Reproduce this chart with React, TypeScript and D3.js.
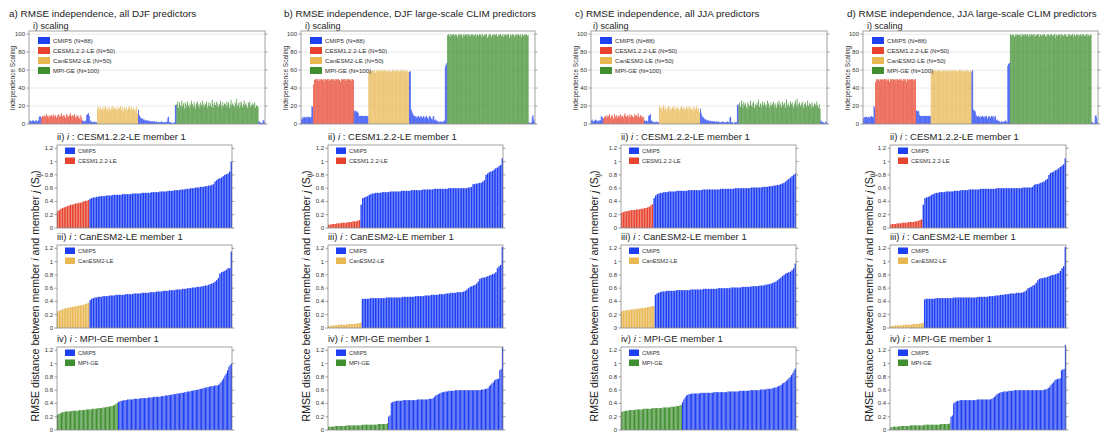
import React from "react";
import * as d3 from "d3";

// ---------- Scaling (i) data: order = CMIP5 | CESM | CMIP5 | CanESM | CMIP5 | MPI | CMIP5 ----------
const groupNames = ["CMIP5", "CESM1.2.2-LE", "CanESM2-LE", "MPI-GE"];
const groupSizes = [88, 50, 50, 100];

// a) all DJF
const aCmipSeg1 = [3,4,3,3,4,4,3,3,4,4,3,4,8,9,8];
const aCesm = [7,9,8,10,9,8,11,9,7,10,8,9,10,8,11,9,8,10,7,9,10,11,8,9,12,9,8,10,9,7,11,10,9,8,10,12,9,8,10,9,11,8,7,10,9,8,6,10,5,8];
const aCmipSeg2 = [4,3,3,4,3,10,11,12,9,4,3,3,2,2,3,2,2,2];
const aCan = [18,20,14,17,19,16,18,15,19,17,20,16,18,14,19,17,15,18,20,16,19,17,18,15,17,19,16,18,20,15,17,19,14,18,16,19,17,15,18,20,16,17,19,15,18,16,14,17,19,12];
const aCmipSeg3 = [16,10,8,7,6,6,5,5,4,4,4,4,3,4,3,3,3,3,3,3,3,2,3,2,2,2,2,2,3,2,2,2,2,2,2,3,7,8,2,2,2,1,1,1,2,21,21];
const aMpi = [22,25,18,24,21,19,26,20,23,17,24,22,19,25,21,18,23,20,26,22,19,24,21,17,23,25,20,22,18,24,21,26,19,23,20,22,25,18,21,24,20,23,19,27,22,18,24,21,25,20,23,19,22,26,21,18,24,20,23,22,19,25,21,24,18,22,27,20,23,21,19,24,22,28,20,23,18,25,21,24,19,22,26,20,23,21,18,24,22,25,19,21,23,20,22,24,18,21,20,19];
const aCmipSeg4 = [3,2,2,1,1,4,4,2];

// b) DJF large-scale CLIM
const bCmipSeg1 = [5,6,8,7,8,7,8,8,7,8,8,7,8,20,19];
const bCesm = [44,49,50,49,50,50,48,50,49,50,50,49,50,47,50,50,49,50,50,48,50,49,50,50,49,50,48,50,50,49,50,50,49,47,50,50,49,50,50,48,50,49,50,50,49,50,50,48,50,49];
const bCmipSeg2 = [15,14,15,13,14,12,9,9,9,9,9,9,9,9,9,9,9,8];
const bCan = [58,59,60,59,58,60,59,60,57,59,60,58,60,59,60,59,58,60,59,60,60,58,59,60,59,57,60,59,58,60,59,60,59,58,60,59,60,58,59,60,59,60,58,59,60,59,57,60,59,58];
const bCmipSeg3 = [58,59,16,14,12,10,9,8,9,7,8,9,7,8,9,8,7,9,8,6,8,9,7,5,8,9,8,6,5,8,9,4,5,4,3,3,3,2,3,2,3,2,3,4,64,66,68];
const bMpi = [99,100,98,100,97,100,99,100,98,99,100,99,97,100,98,100,99,100,96,99,100,98,100,99,100,97,100,99,98,100,99,100,98,99,100,97,99,100,98,100,99,100,97,100,98,99,100,99,100,96,98,100,99,100,97,99,100,98,100,99,100,98,97,100,99,100,98,99,100,97,99,100,98,100,99,100,96,100,98,99,100,99,97,100,98,100,99,100,98,99,100,97,100,99,98,100,99,100,98,99];
const bCmipSeg4 = [2,1,1,2,8,10,5,2];

// c) all JJA
const cCmipSeg1 = [4,5,3,3,4,5,4,3,4,3,4,4,9,8,7];
const cCesm = [6,8,9,7,10,8,9,11,7,8,10,9,6,11,8,9,10,7,9,8,11,10,8,9,7,10,12,9,8,10,7,9,11,8,10,9,7,8,11,9,10,8,12,9,7,10,8,9,6,8];
const cCmipSeg2 = [4,3,4,3,3,9,10,11,4,3,3,2,2,2,3,2,2,2];
const cCan = [20,17,19,15,18,21,16,19,17,14,18,20,16,19,15,17,19,18,16,20,15,18,17,19,16,14,18,20,17,19,15,18,16,19,17,20,15,18,19,16,17,14,19,18,16,20,17,15,18,13];
const cCmipSeg3 = [17,12,9,8,7,6,5,5,4,4,4,3,4,3,3,3,3,3,2,3,3,2,3,2,2,2,2,3,2,2,2,2,2,3,2,2,7,8,2,2,1,1,2,2,2,21,22];
const cMpi = [20,24,19,26,22,18,25,21,23,19,17,24,22,20,26,21,19,23,25,18,22,20,24,21,27,19,23,22,18,25,21,24,20,22,19,26,23,18,21,24,20,22,25,19,23,21,18,24,22,26,20,23,19,25,21,22,24,18,27,20,23,21,19,25,22,24,20,18,23,26,21,28,19,22,24,20,23,21,25,18,22,24,19,21,26,20,23,22,18,24,21,19,23,22,20,25,21,18,22,17];
const cCmipSeg4 = [4,3,2,2,1,1,3,2];

// d) JJA large-scale CLIM
const dCmipSeg1 = [6,8,7,8,8,7,8,8,7,8,9,8,7,20,18];
const dCesm = [47,50,49,50,50,48,50,49,50,50,49,50,50,48,50,49,50,47,50,50,49,50,50,49,50,48,50,50,49,50,50,49,50,48,50,50,49,50,47,50,49,50,50,49,50,50,48,50,49,50];
const dCmipSeg2 = [15,14,15,14,10,9,9,9,9,9,9,9,9,9,9,9,9,9];
const dCan = [59,60,58,60,59,60,59,58,60,59,60,59,60,58,59,60,59,60,57,60,59,60,58,59,60,59,60,58,60,59,60,59,58,60,59,60,59,60,58,59,60,59,58,60,59,60,59,58,60,59];
const dCmipSeg3 = [58,60,16,15,14,10,9,8,9,8,7,9,8,9,8,7,9,8,9,6,8,9,8,7,9,8,9,5,8,9,4,5,4,3,3,2,3,2,3,2,3,4,3,2,65,67,68];
const dMpi = [100,99,98,100,99,97,100,98,100,99,99,100,98,100,97,100,99,100,98,100,99,100,97,99,100,98,100,99,100,97,100,98,99,100,99,100,97,100,98,99,100,99,100,98,97,100,99,100,98,100,99,100,98,99,100,96,100,99,98,100,99,100,97,100,99,98,100,99,100,98,97,100,99,100,98,99,100,97,100,99,98,100,99,100,97,99,100,98,100,99,100,98,99,100,97,100,99,98,100,99];
const dCmipSeg4 = [2,2,1,1,9,10,7,2];

const scalingTicks = [0, 20, 40, 60, 80, 100];
const distTicks = [0, 0.2, 0.4, 0.6, 0.8, 1, 1.2];

// ---------- Distance panels (sorted RMSE distance to member 1) ----------
// a) all DJF
const aDistCesmLE = [0.25,0.27,0.29,0.3,0.31,0.32,0.33,0.34,0.35,0.35,0.36,0.37,0.37,0.38,0.38,0.39,0.4,0.41,0.41,0.42];
const aDistCesmCmip = [0.44,0.45,0.46,0.46,0.47,0.47,0.48,0.48,0.48,0.48,0.49,0.49,0.49,0.49,0.5,0.5,0.5,0.5,0.5,0.5,0.51,0.51,0.51,0.51,0.51,0.51,0.52,0.52,0.52,0.52,0.52,0.52,0.53,0.53,0.53,0.53,0.53,0.53,0.54,0.54,0.54,0.54,0.54,0.55,0.55,0.55,0.55,0.55,0.56,0.56,0.56,0.56,0.57,0.57,0.57,0.57,0.58,0.58,0.58,0.59,0.59,0.59,0.6,0.6,0.6,0.61,0.61,0.61,0.62,0.62,0.62,0.63,0.63,0.64,0.64,0.65,0.66,0.7,0.72,0.74,0.75,0.76,0.78,0.8,0.81,0.82,0.85,1.0];
const aDistCanLE = [0.25,0.26,0.27,0.28,0.29,0.3,0.3,0.31,0.31,0.32,0.32,0.33,0.33,0.34,0.34,0.35,0.35,0.36,0.37,0.38];
const aDistCanCmip = [0.42,0.44,0.45,0.46,0.46,0.47,0.47,0.47,0.48,0.48,0.48,0.48,0.49,0.49,0.49,0.49,0.5,0.5,0.5,0.5,0.5,0.5,0.51,0.51,0.51,0.51,0.51,0.52,0.52,0.52,0.52,0.52,0.53,0.53,0.53,0.53,0.53,0.54,0.54,0.54,0.54,0.55,0.55,0.55,0.55,0.56,0.56,0.56,0.56,0.57,0.57,0.57,0.57,0.58,0.58,0.58,0.58,0.59,0.59,0.59,0.6,0.6,0.6,0.61,0.61,0.61,0.62,0.62,0.62,0.63,0.63,0.64,0.64,0.65,0.66,0.67,0.68,0.7,0.72,0.75,0.82,0.84,0.85,0.86,0.88,0.9,0.9,1.15];
const aDistMpiLE = [0.23,0.24,0.25,0.26,0.27,0.27,0.28,0.28,0.28,0.28,0.28,0.29,0.29,0.29,0.29,0.29,0.29,0.3,0.3,0.3,0.3,0.3,0.31,0.31,0.31,0.31,0.31,0.32,0.32,0.32,0.32,0.33,0.33,0.33,0.33,0.34,0.34,0.34,0.35,0.35,0.35,0.36,0.36,0.37,0.38,0.39,0.41];
const aDistMpiCmip = [0.42,0.43,0.44,0.44,0.45,0.45,0.45,0.46,0.46,0.46,0.46,0.46,0.47,0.47,0.47,0.47,0.47,0.48,0.48,0.48,0.48,0.48,0.48,0.49,0.49,0.49,0.49,0.5,0.5,0.5,0.5,0.5,0.5,0.51,0.51,0.51,0.52,0.52,0.52,0.53,0.53,0.53,0.54,0.54,0.54,0.55,0.55,0.55,0.56,0.56,0.56,0.57,0.57,0.58,0.58,0.58,0.59,0.59,0.6,0.6,0.6,0.61,0.61,0.62,0.62,0.63,0.63,0.64,0.64,0.65,0.65,0.66,0.66,0.66,0.67,0.67,0.67,0.68,0.7,0.72,0.75,0.78,0.82,0.85,0.9,0.95,0.98,1.0];

// b) DJF large-scale CLIM
const bDistCesmLE = [0.05,0.05,0.06,0.06,0.06,0.07,0.07,0.07,0.08,0.08,0.08,0.08,0.09,0.09,0.09,0.1,0.1,0.1,0.11,0.12];
const bDistCesmCmip = [0.35,0.45,0.46,0.47,0.48,0.5,0.51,0.52,0.52,0.53,0.53,0.53,0.53,0.54,0.54,0.54,0.54,0.54,0.55,0.55,0.55,0.55,0.55,0.55,0.55,0.56,0.56,0.56,0.56,0.56,0.56,0.57,0.57,0.57,0.57,0.57,0.57,0.57,0.58,0.58,0.58,0.58,0.58,0.58,0.58,0.59,0.59,0.59,0.59,0.59,0.59,0.59,0.59,0.59,0.6,0.6,0.6,0.6,0.6,0.6,0.6,0.6,0.6,0.6,0.6,0.6,0.61,0.61,0.62,0.66,0.66,0.67,0.67,0.68,0.68,0.7,0.72,0.8,0.82,0.84,0.85,0.86,0.88,0.9,0.91,0.93,0.95,1.05];
const bDistCanLE = [0.03,0.03,0.04,0.04,0.04,0.04,0.05,0.05,0.05,0.05,0.05,0.05,0.06,0.06,0.06,0.06,0.06,0.07,0.07,0.07,0.08];
const bDistCanCmip = [0.44,0.44,0.44,0.44,0.44,0.45,0.45,0.45,0.45,0.45,0.45,0.45,0.45,0.45,0.45,0.46,0.46,0.46,0.46,0.46,0.46,0.46,0.46,0.46,0.46,0.47,0.47,0.47,0.47,0.47,0.47,0.47,0.47,0.48,0.48,0.48,0.48,0.48,0.48,0.49,0.49,0.49,0.49,0.5,0.5,0.5,0.5,0.5,0.51,0.51,0.51,0.51,0.52,0.52,0.52,0.53,0.53,0.53,0.53,0.54,0.54,0.54,0.54,0.55,0.56,0.58,0.6,0.62,0.63,0.64,0.65,0.67,0.7,0.74,0.75,0.76,0.76,0.77,0.78,0.79,0.8,0.81,0.82,0.84,0.9,0.93,0.95,1.22];
const bDistMpiLE = [0.05,0.05,0.05,0.05,0.05,0.06,0.06,0.06,0.06,0.06,0.06,0.06,0.06,0.06,0.07,0.07,0.07,0.07,0.07,0.07,0.07,0.07,0.07,0.07,0.07,0.07,0.08,0.08,0.08,0.08,0.08,0.08,0.08,0.08,0.08,0.08,0.08,0.08,0.09,0.09,0.09,0.09,0.09,0.09,0.09,0.1];
const bDistMpiCmip = [0.2,0.22,0.41,0.42,0.43,0.43,0.44,0.44,0.44,0.44,0.44,0.45,0.45,0.45,0.45,0.45,0.45,0.45,0.45,0.45,0.45,0.45,0.46,0.46,0.46,0.46,0.46,0.46,0.46,0.46,0.46,0.47,0.47,0.47,0.48,0.5,0.52,0.53,0.54,0.55,0.56,0.57,0.57,0.58,0.58,0.58,0.59,0.59,0.59,0.59,0.59,0.6,0.6,0.6,0.6,0.6,0.6,0.6,0.6,0.6,0.6,0.6,0.6,0.6,0.6,0.6,0.6,0.6,0.6,0.6,0.6,0.61,0.61,0.61,0.62,0.62,0.63,0.66,0.68,0.7,0.72,0.75,0.76,0.77,0.77,0.9,0.92,1.25];

// c) all JJA
const cDistCesmLE = [0.23,0.24,0.25,0.25,0.26,0.26,0.27,0.27,0.27,0.28,0.28,0.28,0.29,0.29,0.3,0.3,0.31,0.32,0.34,0.36];
const cDistCesmCmip = [0.45,0.49,0.51,0.52,0.53,0.53,0.54,0.54,0.54,0.55,0.55,0.55,0.55,0.55,0.56,0.56,0.56,0.56,0.56,0.56,0.56,0.57,0.57,0.57,0.57,0.57,0.57,0.57,0.57,0.57,0.58,0.58,0.58,0.58,0.58,0.58,0.58,0.58,0.58,0.58,0.58,0.59,0.59,0.59,0.59,0.59,0.59,0.59,0.59,0.59,0.6,0.6,0.6,0.6,0.6,0.6,0.6,0.6,0.6,0.6,0.61,0.61,0.61,0.61,0.61,0.61,0.61,0.62,0.62,0.62,0.62,0.63,0.63,0.63,0.64,0.64,0.65,0.65,0.66,0.67,0.68,0.7,0.72,0.74,0.76,0.78,0.8,0.82];
const cDistCanLE = [0.25,0.26,0.26,0.27,0.27,0.27,0.28,0.28,0.28,0.29,0.29,0.29,0.3,0.3,0.3,0.31,0.31,0.32,0.32,0.33,0.33];
const cDistCanCmip = [0.5,0.52,0.53,0.54,0.55,0.55,0.55,0.56,0.56,0.56,0.56,0.56,0.56,0.57,0.57,0.57,0.57,0.57,0.57,0.57,0.57,0.57,0.58,0.58,0.58,0.58,0.58,0.58,0.58,0.58,0.59,0.59,0.59,0.59,0.59,0.59,0.59,0.59,0.59,0.6,0.6,0.6,0.6,0.6,0.6,0.6,0.6,0.61,0.61,0.61,0.61,0.61,0.61,0.61,0.62,0.62,0.62,0.62,0.62,0.62,0.63,0.63,0.63,0.63,0.63,0.64,0.64,0.64,0.65,0.65,0.66,0.66,0.67,0.68,0.69,0.7,0.72,0.74,0.76,0.78,0.8,0.82,0.83,0.84,0.85,0.87,0.9,0.97];
const cDistMpiLE = [0.27,0.28,0.28,0.29,0.29,0.29,0.3,0.3,0.3,0.3,0.3,0.31,0.31,0.31,0.31,0.31,0.31,0.32,0.32,0.32,0.32,0.32,0.32,0.32,0.33,0.33,0.33,0.33,0.33,0.33,0.33,0.33,0.34,0.34,0.34,0.34,0.34,0.34,0.35,0.35,0.35,0.35,0.36,0.36,0.36,0.37,0.38];
const cDistMpiCmip = [0.42,0.46,0.49,0.52,0.53,0.54,0.54,0.55,0.55,0.55,0.55,0.55,0.55,0.55,0.56,0.56,0.56,0.56,0.56,0.56,0.56,0.56,0.56,0.56,0.57,0.57,0.57,0.57,0.57,0.57,0.57,0.57,0.57,0.57,0.57,0.58,0.58,0.58,0.58,0.58,0.58,0.58,0.58,0.58,0.59,0.59,0.59,0.59,0.59,0.59,0.59,0.59,0.6,0.6,0.6,0.6,0.6,0.6,0.6,0.6,0.61,0.61,0.61,0.61,0.61,0.62,0.62,0.62,0.62,0.63,0.63,0.64,0.64,0.65,0.66,0.67,0.68,0.7,0.71,0.72,0.74,0.76,0.78,0.8,0.83,0.86,0.9,0.93];

// d) JJA large-scale CLIM
const dDistCesmLE = [0.05,0.06,0.06,0.06,0.07,0.07,0.07,0.08,0.08,0.08,0.08,0.09,0.09,0.09,0.09,0.1,0.1,0.11,0.12,0.13];
const dDistCesmCmip = [0.35,0.45,0.46,0.47,0.48,0.5,0.51,0.52,0.53,0.53,0.54,0.54,0.54,0.54,0.55,0.55,0.55,0.55,0.55,0.56,0.56,0.56,0.56,0.57,0.57,0.57,0.57,0.57,0.58,0.58,0.58,0.58,0.58,0.58,0.58,0.59,0.59,0.59,0.59,0.59,0.59,0.59,0.59,0.59,0.59,0.6,0.6,0.6,0.6,0.6,0.6,0.6,0.6,0.6,0.6,0.6,0.6,0.6,0.6,0.6,0.6,0.61,0.61,0.61,0.61,0.61,0.61,0.62,0.65,0.66,0.66,0.67,0.68,0.69,0.7,0.72,0.74,0.8,0.83,0.84,0.85,0.87,0.88,0.9,0.92,0.94,0.96,1.05];
const dDistCanLE = [0.03,0.03,0.03,0.04,0.04,0.04,0.04,0.04,0.05,0.05,0.05,0.05,0.05,0.05,0.06,0.06,0.06,0.06,0.07,0.07,0.08];
const dDistCanCmip = [0.43,0.44,0.44,0.44,0.44,0.44,0.44,0.45,0.45,0.45,0.45,0.45,0.45,0.45,0.45,0.45,0.45,0.45,0.46,0.46,0.46,0.46,0.46,0.46,0.46,0.46,0.46,0.46,0.46,0.46,0.46,0.46,0.46,0.47,0.47,0.47,0.47,0.47,0.47,0.47,0.48,0.48,0.48,0.48,0.49,0.49,0.49,0.5,0.5,0.5,0.51,0.51,0.51,0.52,0.52,0.52,0.52,0.53,0.53,0.53,0.53,0.54,0.55,0.57,0.6,0.61,0.62,0.64,0.65,0.68,0.72,0.74,0.75,0.75,0.76,0.76,0.77,0.78,0.79,0.8,0.8,0.81,0.82,0.83,0.86,0.9,0.93,1.22];
const dDistMpiLE = [0.04,0.04,0.05,0.05,0.05,0.05,0.05,0.06,0.06,0.06,0.06,0.06,0.06,0.06,0.06,0.07,0.07,0.07,0.07,0.07,0.07,0.07,0.07,0.07,0.07,0.07,0.08,0.08,0.08,0.08,0.08,0.08,0.08,0.08,0.08,0.08,0.08,0.08,0.09,0.09,0.09,0.09,0.09,0.09,0.09,0.1];
const dDistMpiCmip = [0.2,0.22,0.4,0.42,0.43,0.44,0.44,0.45,0.45,0.45,0.45,0.45,0.45,0.45,0.45,0.45,0.45,0.45,0.45,0.45,0.46,0.46,0.46,0.46,0.46,0.46,0.46,0.46,0.46,0.46,0.46,0.47,0.48,0.5,0.52,0.54,0.55,0.56,0.57,0.57,0.58,0.58,0.58,0.58,0.59,0.59,0.59,0.59,0.6,0.6,0.6,0.6,0.6,0.6,0.6,0.6,0.6,0.6,0.6,0.6,0.6,0.6,0.6,0.6,0.6,0.6,0.6,0.6,0.6,0.6,0.6,0.61,0.61,0.62,0.63,0.65,0.68,0.7,0.72,0.75,0.76,0.77,0.77,0.78,0.9,0.91,0.92,1.28];

// ---------- styling ----------
const COLORS: Record<string, string> = {
  "CMIP5": "#1f3ff2",
  "CESM1.2.2-LE": "#e8432e",
  "CanESM2-LE": "#e8b752",
  "MPI-GE": "#3f8e2f",
};
const FONT = "'Liberation Sans', Arial, sans-serif";
const FRAME = "#8c8c8c";

type Bar = { v: number; g: string };

function buildScaling(s1: number[], ce: number[], s2: number[], ca: number[], s3: number[], mp: number[], s4: number[]): Bar[] {
  const m = (arr: number[], g: string) => arr.map((v) => ({ v, g }));
  return [
    ...m(s1, "CMIP5"), ...m(ce, "CESM1.2.2-LE"), ...m(s2, "CMIP5"), ...m(ca, "CanESM2-LE"),
    ...m(s3, "CMIP5"), ...m(mp, "MPI-GE"), ...m(s4, "CMIP5"),
  ];
}
function buildDist(le: number[], leName: string, cmip: number[]): Bar[] {
  return [...le.map((v) => ({ v, g: leName })), ...cmip.map((v) => ({ v, g: "CMIP5" }))];
}

const columns = [
  {
    title: "a) RMSE independence, all DJF predictors", tx: 9, sx: 33, topL: 29, topR: 265, lowL: 57, lowR: 232, ylx: 13, blx: 35,
    scaling: buildScaling(aCmipSeg1, aCesm, aCmipSeg2, aCan, aCmipSeg3, aMpi, aCmipSeg4),
    dist: [buildDist(aDistCesmLE, "CESM1.2.2-LE", aDistCesmCmip), buildDist(aDistCanLE, "CanESM2-LE", aDistCanCmip), buildDist(aDistMpiLE, "MPI-GE", aDistMpiCmip)],
  },
  {
    title: "b) RMSE independence, DJF large-scale CLIM predictors", tx: 284, sx: 305, topL: 301, topR: 535, lowL: 328, lowR: 503, ylx: 286, blx: 306,
    scaling: buildScaling(bCmipSeg1, bCesm, bCmipSeg2, bCan, bCmipSeg3, bMpi, bCmipSeg4),
    dist: [buildDist(bDistCesmLE, "CESM1.2.2-LE", bDistCesmCmip), buildDist(bDistCanLE, "CanESM2-LE", bDistCanCmip), buildDist(bDistMpiLE, "MPI-GE", bDistMpiCmip)],
  },
  {
    title: "c) RMSE independence, all JJA predictors", tx: 575, sx: 593, topL: 591, topR: 827, lowL: 621, lowR: 796, ylx: 576, blx: 594,
    scaling: buildScaling(cCmipSeg1, cCesm, cCmipSeg2, cCan, cCmipSeg3, cMpi, cCmipSeg4),
    dist: [buildDist(cDistCesmLE, "CESM1.2.2-LE", cDistCesmCmip), buildDist(cDistCanLE, "CanESM2-LE", cDistCanCmip), buildDist(cDistMpiLE, "MPI-GE", cDistMpiCmip)],
  },
  {
    title: "d) RMSE independence, JJA large-scale CLIM predictors", tx: 847, sx: 867, topL: 863, topR: 1098, lowL: 890, lowR: 1066, ylx: 848, blx: 869,
    scaling: buildScaling(dCmipSeg1, dCesm, dCmipSeg2, dCan, dCmipSeg3, dMpi, dCmipSeg4),
    dist: [buildDist(dDistCesmLE, "CESM1.2.2-LE", dDistCesmCmip), buildDist(dDistCanLE, "CanESM2-LE", dDistCanCmip), buildDist(dDistMpiLE, "MPI-GE", dDistMpiCmip)],
  },
];

const distPanels = [
  { roman: "ii)", name: "CESM1.2.2-LE", top: 145, bottom: 228 },
  { roman: "iii)", name: "CanESM2-LE", top: 245, bottom: 328 },
  { roman: "iv)", name: "MPI-GE", top: 347, bottom: 430 },
];

function ScalingPanel({ data, x0, x1 }: { data: Bar[]; x0: number; x1: number }) {
  const top = 31, bottom = 124;
  const x = d3.scaleBand<number>().domain(d3.range(data.length)).range([x0, x1]).paddingInner(0.12);
  const y = d3.scaleLinear().domain([0, 103.5]).range([bottom, top]);
  return (
    <g>
      {scalingTicks.filter((t) => t > 0).map((t) => (
        <line key={"g" + t} x1={x0} x2={x1} y1={y(t)} y2={y(t)} stroke="#dcdcdc" strokeWidth={0.6} />
      ))}
      {data.map((d, i) => (
        <rect key={i} x={x(i)} y={y(d.v)} width={x.bandwidth()} height={bottom - y(d.v)} fill={COLORS[d.g]} />
      ))}
      <rect x={x0} y={top} width={x1 - x0} height={bottom - top} fill="none" stroke={FRAME} strokeWidth={0.8} />
      {scalingTicks.map((t) => (
        <g key={t}>
          <line x1={x0 - 2.5} x2={x0} y1={y(t)} y2={y(t)} stroke="#666" strokeWidth={0.6} />
          <line x1={x1} x2={x1 + 2.5} y1={y(t)} y2={y(t)} stroke="#666" strokeWidth={0.6} />
          <text x={x0 - 4} y={y(t)} dy="0.33em" fontSize={6} textAnchor="end" fill="#333" fontFamily={FONT}>{t}</text>
        </g>
      ))}
      {groupNames.map((g, k) => (
        <g key={g}>
          <rect x={x0 + 9} y={top + 6 + k * 10} width={12} height={7} fill={COLORS[g]} />
          <text x={x0 + 24} y={top + 9.5 + k * 10} dy="0.33em" fontSize={6.2} fill="#333" fontFamily={FONT}>
            {g} (N={groupSizes[k]})
          </text>
        </g>
      ))}
    </g>
  );
}

function DistPanel({ data, x0, x1, top, bottom, name }: { data: Bar[]; x0: number; x1: number; top: number; bottom: number; name: string }) {
  const x = d3.scaleBand<number>().domain(d3.range(data.length)).range([x0, x1]).paddingInner(0.14);
  const y = d3.scaleLinear().domain([0, 1.25]).range([bottom, top]);
  const fmt = d3.format("~g");
  return (
    <g>
      {data.map((d, i) => (
        <rect key={i} x={x(i)} y={y(d.v)} width={x.bandwidth()} height={bottom - y(d.v)} fill={COLORS[d.g]} />
      ))}
      <rect x={x0} y={top} width={x1 - x0} height={bottom - top} fill="none" stroke={FRAME} strokeWidth={0.8} />
      {distTicks.map((t) => (
        <g key={t}>
          <line x1={x0 - 2.5} x2={x0} y1={y(t)} y2={y(t)} stroke="#666" strokeWidth={0.6} />
          <line x1={x1} x2={x1 + 2.5} y1={y(t)} y2={y(t)} stroke="#666" strokeWidth={0.6} />
          <text x={x0 - 4} y={y(t)} dy="0.33em" fontSize={6} textAnchor="end" fill="#333" fontFamily={FONT}>{fmt(t)}</text>
        </g>
      ))}
      {["CMIP5", name].map((g, k) => (
        <g key={g}>
          <rect x={x0 + 8} y={top + 2.5 + k * 10} width={10} height={6.5} fill={COLORS[g]} />
          <text x={x0 + 21} y={top + 5.75 + k * 10} dy="0.33em" fontSize={5.8} fill="#333" fontFamily={FONT}>{g}</text>
        </g>
      ))}
    </g>
  );
}

export default function App() {
  return (
    <svg width={1105} height={434} style={{ position: "absolute", left: 0, top: 0, background: "#fff" }} fontFamily={FONT}>
      <rect x={0} y={0} width={1105} height={434} fill="#fff" />
      {columns.map((c, ci) => (
        <g key={ci}>
          <text x={c.tx} y={17} fontSize={9.9} fill="#222">{c.title}</text>
          <text x={c.sx} y={28.5} fontSize={9} fill="#222">i) scaling</text>
          <text transform={`translate(${c.ylx},78) rotate(-90)`} textAnchor="middle" dy="0.33em" fontSize={6.5} fill="#333">Independence Scaling</text>
          <ScalingPanel data={c.scaling} x0={c.topL} x1={c.topR} />
          {distPanels.map((p, pi) => (
            <g key={pi}>
              <text x={c.lowL} y={p.top - 5} fontSize={9.5} fill="#222">
                {p.roman} <tspan fontStyle="italic">i</tspan> : {p.name} member 1
              </text>
              <DistPanel data={c.dist[pi]} x0={c.lowL} x1={c.lowR} top={p.top} bottom={p.bottom} name={p.name} />
            </g>
          ))}
          <text transform={`translate(${c.blx},296) rotate(-90)`} textAnchor="middle" dy="0.35em" fontSize={10.6} fill="#222">
            RMSE distance between member <tspan fontStyle="italic">i</tspan> and member <tspan fontStyle="italic">j</tspan>{"  "}(S<tspan fontSize={7} fontStyle="italic" dy="2">ij</tspan><tspan dy="-2">)</tspan>
          </text>
        </g>
      ))}
    </svg>
  );
}
